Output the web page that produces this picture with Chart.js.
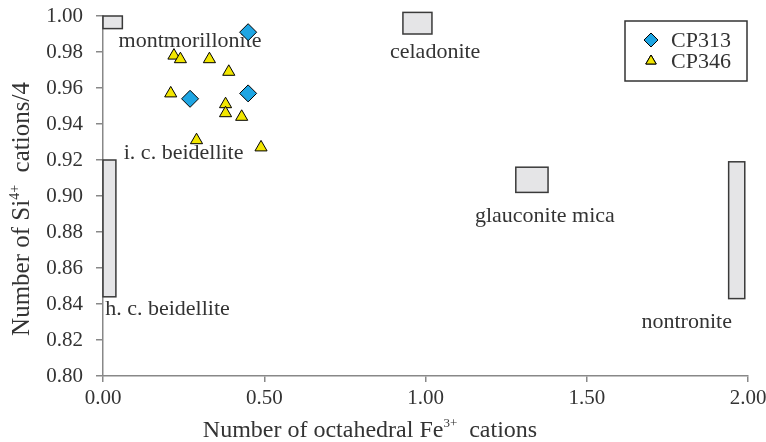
<!DOCTYPE html>
<html>
<head>
<meta charset="utf-8">
<script src="https://cdn.jsdelivr.net/npm/chart.js@4/dist/chart.umd.min.js"></script>
<style>
  html, body { margin: 0; padding: 0; background: #fff; }
  #wrap { width: 766px; height: 442px; }
</style>
</head>
<body>
<div id="wrap"><canvas id="myChart" width="766" height="442"></canvas></div>
<script>
// sample points
const cp313X = [0.45, 0.27, 0.45];
const cp313Y = [0.991, 0.954, 0.957];
const cp346X = [0.22, 0.24, 0.33, 0.39, 0.21, 0.38, 0.38, 0.43, 0.29, 0.49];
const cp346Y = [0.978, 0.976, 0.976, 0.969, 0.957, 0.951, 0.946, 0.944, 0.931, 0.927];

// reference mineral fields (boxes)
const fieldNames = ['montmorillonite', 'celadonite', 'i. c. beidellite', 'glauconite mica', 'h. c. beidellite', 'nontronite'];
const fieldX0 = [0.00, 0.93, 0.00, 1.28, null, 1.94];
const fieldX1 = [0.06, 1.02, 0.04, 1.38, null, 1.99];
const fieldY0 = [0.993, 0.990, 0.844, 0.902, null, 0.843];
const fieldY1 = [1.000, 1.002, 0.920, 0.916, null, 0.919];
// where each name is written (data units)
const nameX = [0.27, 1.03, 0.25, 1.37, 0.20, 1.81];
const nameY = [0.986, 0.980, 0.924, 0.889, 0.837, 0.830];

const xTicks = [0, 0.5, 1.0, 1.5, 2.0];
const yTicks = [0.80, 0.82, 0.84, 0.86, 0.88, 0.90, 0.92, 0.94, 0.96, 0.98, 1.00];

const xTitle = [['Number of octahedral Fe', false], ['3+', true], ['  cations', false]];
const yTitle = [['Number of Si', false], ['4+', true], ['  cations/4', false]];

const serif = "'Liberation Serif', 'Times New Roman', serif";
const textCol = '#333';

// text with a raised superscript part, centred on (0,0) of the current transform
function supText(ctx, parts, size) {
    const big = size + 'px ' + serif, small = Math.round(size * 0.55) + 'px ' + serif;
    let total = 0;
    parts.forEach(p => { ctx.font = p[1] ? small : big; total += ctx.measureText(p[0]).width; });
    let x = -total / 2;
    ctx.textAlign = 'left';
    ctx.textBaseline = 'alphabetic';
    parts.forEach(p => {
        ctx.font = p[1] ? small : big;
        ctx.fillText(p[0], x, p[1] ? -size * 0.42 : 0);
        x += ctx.measureText(p[0]).width;
    });
}

const fieldsPlugin = {
    id: 'fields',
    beforeDatasetsDraw(chart) {
        const ctx = chart.ctx, xs = chart.scales.x, ys = chart.scales.y;
        ctx.save();
        for (let i = 0; i < fieldNames.length; i++) {
            if (fieldX0[i] === null) continue;
            const l = xs.getPixelForValue(fieldX0[i]), r = xs.getPixelForValue(fieldX1[i]);
            const t = ys.getPixelForValue(fieldY1[i]), b = ys.getPixelForValue(fieldY0[i]);
            ctx.fillStyle = '#e5e5e7';
            ctx.strokeStyle = '#3a3a3a';
            ctx.lineWidth = 1.5;
            ctx.fillRect(l, t, r - l, b - t);
            ctx.strokeRect(l, t, r - l, b - t);
        }
        ctx.font = '22px ' + serif;
        ctx.fillStyle = textCol;
        ctx.textAlign = 'center';
        ctx.textBaseline = 'middle';
        for (let i = 0; i < fieldNames.length; i++) {
            ctx.fillText(fieldNames[i], xs.getPixelForValue(nameX[i]), ys.getPixelForValue(nameY[i]));
        }
        ctx.restore();
    }
};

const axisTitles = {
    id: 'axisTitles',
    afterDraw(chart) {
        const ctx = chart.ctx;
        ctx.save();
        ctx.fillStyle = textCol;
        ctx.translate(370, 437);
        supText(ctx, xTitle, 24);
        ctx.restore();
        ctx.save();
        ctx.fillStyle = textCol;
        ctx.translate(29, 209);
        ctx.rotate(-Math.PI / 2);
        supText(ctx, yTitle, 25);
        ctx.restore();
    }
};

const legendBox = {
    id: 'legendBox',
    afterDraw(chart) {
        const ctx = chart.ctx;
        ctx.save();
        ctx.strokeStyle = '#333';
        ctx.lineWidth = 1.5;
        ctx.strokeRect(625, 21, 122, 60);
        ctx.font = '22px ' + serif;
        ctx.textBaseline = 'middle';
        chart.data.datasets.forEach((ds, i) => {
            const y = 40 + i * 21;
            ctx.fillStyle = ds.backgroundColor;
            ctx.strokeStyle = '#000';
            ctx.lineWidth = 1;
            Chart.helpers.drawPoint(ctx, { pointStyle: ds.pointStyle, radius: ds.pointStyle === 'triangle' ? 6 : 7, borderWidth: 1 }, 651, y);
            ctx.fill();
            ctx.stroke();
            ctx.fillStyle = textCol;
            ctx.fillText(ds.label, 671, y + 1);
        });
        ctx.restore();
    }
};

new Chart(document.getElementById('myChart').getContext('2d'), {
    type: 'scatter',
    data: {
        datasets: [
            {
                label: 'CP313',
                data: cp313X.map((x, i) => ({ x: x, y: cp313Y[i] })),
                pointStyle: 'rectRot',
                pointRadius: 8.5,
                backgroundColor: '#1ea5e3',
                borderColor: '#000',
                borderWidth: 1
            },
            {
                label: 'CP346',
                data: cp346X.map((x, i) => ({ x: x, y: cp346Y[i] })),
                pointStyle: 'triangle',
                pointRadius: 7,
                backgroundColor: '#f2e600',
                borderColor: '#000',
                borderWidth: 1
            }
        ]
    },
    options: {
        responsive: false,
        animation: false,
        events: [],
        layout: { padding: { top: 16, right: 18, left: 0, bottom: 0 } },
        plugins: {
            legend: { display: false },
            tooltip: { enabled: false }
        },
        scales: {
            x: {
                type: 'linear',
                min: 0, max: 2,
                afterBuildTicks: s => { s.ticks = xTicks.map(v => ({ value: v })); },
                afterFit: s => { s.height = 66; s.paddingRight = 0; s.paddingLeft = 0; },
                border: { color: '#888', width: 1.5 },
                grid: { drawOnChartArea: false, drawTicks: true, tickLength: 6, color: '#888', lineWidth: 1.5 },
                ticks: {
                    padding: 4,
                    color: textCol,
                    font: { family: serif, size: 21 },
                    callback: v => Number(v).toFixed(2)
                }
            },
            y: {
                type: 'linear',
                min: 0.8, max: 1.0,
                afterBuildTicks: s => { s.ticks = yTicks.map(v => ({ value: v })); },
                afterFit: s => { s.width = 103; s.paddingTop = 0; s.paddingBottom = 0; },
                border: { color: '#888', width: 1.5 },
                grid: { drawOnChartArea: false, drawTicks: true, tickLength: 7, color: '#888', lineWidth: 1.5 },
                ticks: {
                    padding: 13,
                    color: textCol,
                    font: { family: serif, size: 21 },
                    callback: v => Number(v).toFixed(2)
                }
            }
        }
    },
    plugins: [fieldsPlugin, axisTitles, legendBox]
});
</script>
</body>
</html>
